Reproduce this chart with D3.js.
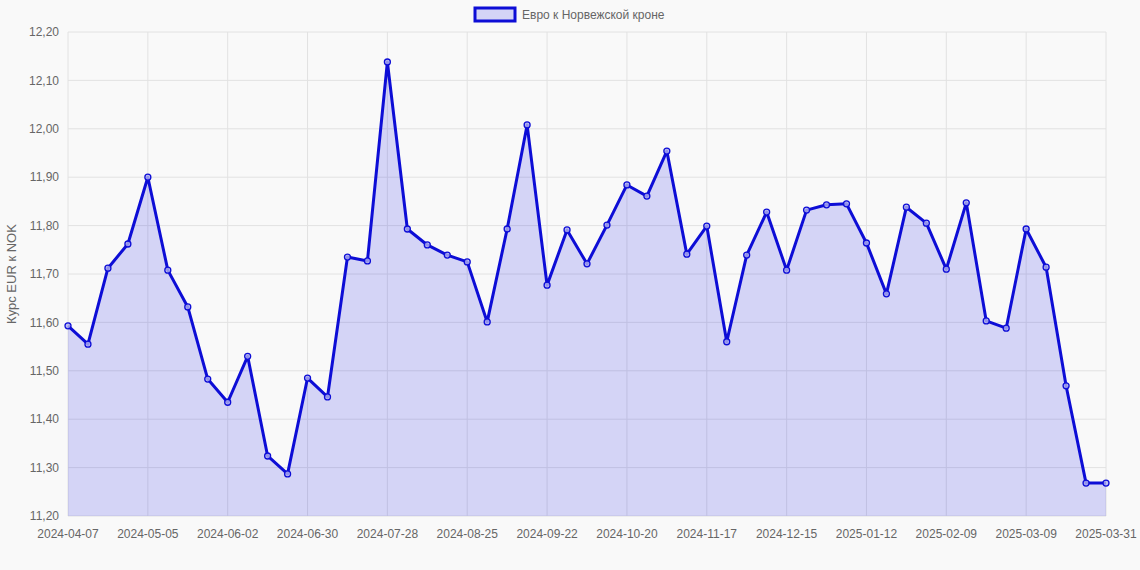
<!DOCTYPE html>
<html><head><meta charset="utf-8">
<script src="https://cdn.jsdelivr.net/npm/d3@7"></script>
<style>body{margin:0;background:#f9f9f9;font-family:"Liberation Sans",Arial,sans-serif}</style>
</head><body><div id="chart"></div>
<script>
var values = [11.593,11.555,11.712,11.762,11.900,11.708,11.632,11.483,11.435,11.530,
  11.324,11.287,11.485,11.446,11.735,11.727,12.138,11.793,11.760,11.739,
  11.725,11.601,11.793,12.008,11.677,11.791,11.721,11.801,11.884,11.861,
  11.954,11.741,11.799,11.560,11.739,11.828,11.708,11.832,11.843,11.845,
  11.764,11.659,11.838,11.805,11.710,11.847,11.603,11.588,11.793,11.714,
  11.469,11.268,11.268];
var tickIdx = [0,4,8,12,16,20,24,28,32,36,40,44,48,52];
var tickLabels = ["2024-04-07","2024-05-05","2024-06-02","2024-06-30","2024-07-28","2024-08-25",
  "2024-09-22","2024-10-20","2024-11-17","2024-12-15","2025-01-12","2025-02-09","2025-03-09","2025-03-31"];
var yTicks = [11.2,11.3,11.4,11.5,11.6,11.7,11.8,11.9,12.0,12.1,12.2];
var seriesName = "Евро к Норвежской кроне";

var W = 1140, H = 570;
var margin = {top: 32, right: 34, bottom: 54, left: 68},
    width = W - margin.left - margin.right,
    height = H - margin.top - margin.bottom;

var svg = d3.select("#chart").append("svg").attr("width", W).attr("height", H);
var g = svg.append("g").attr("transform", "translate(" + margin.left + "," + margin.top + ")");

var x = d3.scaleLinear().domain([0, values.length - 1]).range([0, width]);
var y = d3.scaleLinear().domain([11.2, 12.2]).range([height, 0]);
var fmt = function(d) { return d3.format(".2f")(d).replace(".", ","); };

// grid
g.append("g").selectAll("line").data(yTicks).join("line")
  .attr("x1", 0).attr("x2", width).attr("y1", d => y(d)).attr("y2", d => y(d))
  .attr("stroke", "#e2e2e2");
g.append("g").selectAll("line").data(tickIdx).join("line")
  .attr("x1", d => x(d)).attr("x2", d => x(d)).attr("y1", 0).attr("y2", height)
  .attr("stroke", "#e2e2e2");

var area = d3.area().x((d, i) => x(i)).y0(height).y1(d => y(d));
var line = d3.line().x((d, i) => x(i)).y(d => y(d));
g.append("path").datum(values).attr("d", area).attr("fill", "rgba(0,0,230,0.15)");
g.append("path").datum(values).attr("d", line).attr("fill", "none")
  .attr("stroke", "#0d0dd6").attr("stroke-width", 3).attr("stroke-linejoin", "round");
g.selectAll("circle").data(values).join("circle")
  .attr("cx", (d, i) => x(i)).attr("cy", d => y(d)).attr("r", 3)
  .attr("fill", "rgba(180,180,240,0.8)").attr("stroke", "#0d0dd6").attr("stroke-width", 1.3);

// axes labels
g.append("g").selectAll("text").data(yTicks).join("text")
  .attr("x", -9).attr("y", d => y(d)).attr("dy", "0.35em").attr("text-anchor", "end")
  .attr("font-size", 12).attr("fill", "#666").text(fmt);
g.append("g").selectAll("text").data(tickIdx).join("text")
  .attr("x", d => x(d)).attr("y", height + 22).attr("text-anchor", "middle")
  .attr("font-size", 12).attr("fill", "#666").text((d, i) => tickLabels[i]);

svg.append("text").attr("transform", "translate(16," + (margin.top + height / 2) + ") rotate(-90)")
  .attr("text-anchor", "middle").attr("font-size", 13).attr("fill", "#666").text("Курс EUR к NOK");

// legend
var lg = svg.append("g").attr("transform", "translate(475,8)");
lg.append("rect").attr("width", 40).attr("height", 13).attr("fill", "rgba(0,0,230,0.15)")
  .attr("stroke", "#0d0dd6").attr("stroke-width", 3);
lg.append("text").attr("x", 47).attr("y", 11).attr("font-size", 12).attr("fill", "#666").text(seriesName);
</script></body></html>
